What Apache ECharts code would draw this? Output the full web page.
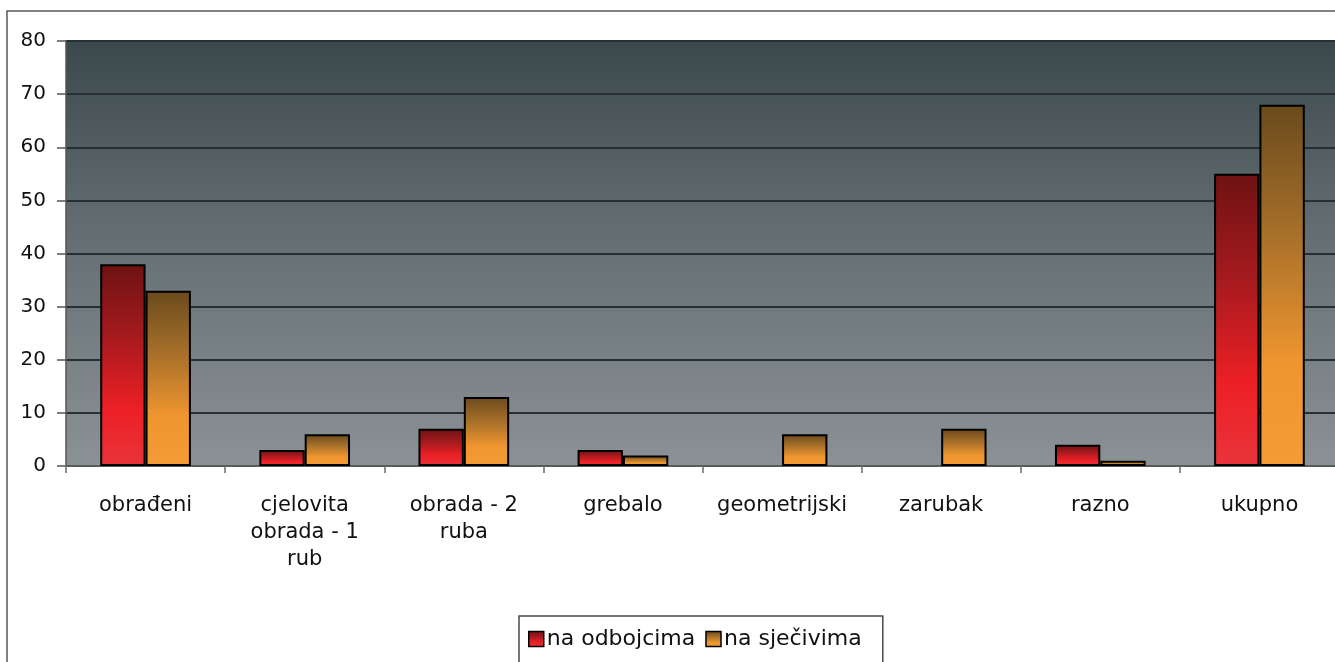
<!DOCTYPE html>
<html>
<head>
<meta charset="utf-8">
<script src="https://cdn.jsdelivr.net/npm/echarts@6/dist/echarts.min.js"></script>
<style>
html,body{margin:0;padding:0;background:#fff;}
#c{width:1335px;height:662px;}
</style>
</head>
<body>
<div id="c"></div>
<script>
var categories = ['obrađeni', 'cjelovita obrada - 1 rub', 'obrada - 2 ruba', 'grebalo', 'geometrijski', 'zarubak', 'razno', 'ukupno'];
var tickLabels = ['obrađeni', 'cjelovita\nobrada - 1\nrub', 'obrada - 2\nruba', 'grebalo', 'geometrijski', 'zarubak', 'razno', 'ukupno'];
var naOdbojcima = [38, 3, 7, 3, 0, 0, 4, 55];
var naSjecivima = [33, 6, 13, 2, 6, 7, 1, 68];
var yTicks = [0, 10, 20, 30, 40, 50, 60, 70, 80];

var FONT = 'DejaVu Sans';
var chart = echarts.init(document.getElementById('c'), null, {renderer: 'canvas'});

function grad(stops) {
  return new echarts.graphic.LinearGradient(0, 0, 0, 1, stops.map(function (s) { return {offset: s[0], color: s[1]}; }));
}
// zero-height bars are not outlined in the reference
function hideZero(arr) {
  return arr.map(function (v) {
    return v === 0 ? {value: v, itemStyle: {borderWidth: 0, opacity: 0}} : v;
  });
}

var option = {
  backgroundColor: '#ffffff',
  animation: false,
  graphic: [{
    type: 'rect',
    shape: {x: 7, y: 11, width: 1340, height: 700},
    style: {fill: 'none', stroke: '#5a5a5a', lineWidth: 1.5},
    z: -1
  }],
  grid: {
    left: 66, top: 41, right: -4, bottom: 196,
    containLabel: false,
    outerBoundsMode: 'none',
    show: true,
    borderWidth: 0,
    backgroundColor: grad([[0, '#3b484c'], [0.45, '#646e72'], [1, '#8b9295']])
  },
  legend: {
    left: 519, top: 616,
    data: ['na odbojcima', 'na sječivima'],
    icon: 'rect',
    itemWidth: 15, itemHeight: 15, itemGap: 10,
    padding: [12, 21, 20, 9],
    borderColor: '#4a4a4a', borderWidth: 1.5, backgroundColor: '#ffffff',
    textStyle: {fontFamily: FONT, fontSize: 22, color: '#111', padding: [0, 0, 0, -2]},
    itemStyle: {borderColor: '#000', borderWidth: 1.5}
  },
  xAxis: {
    type: 'category',
    data: categories,
    axisLine: {show: true, lineStyle: {color: '#6a6a6a', width: 1.5}},
    axisTick: {show: true, length: 7, interval: 0, lineStyle: {color: '#6a6a6a', width: 1.5}},
    axisLabel: {
      interval: 0, margin: 26, fontFamily: FONT, fontSize: 21, color: '#111', lineHeight: 27,
      formatter: function (v, i) { return tickLabels[i]; }
    }
  },
  yAxis: {
    type: 'value', min: 0, max: 80, interval: 10,
    axisLine: {show: true, lineStyle: {color: '#555', width: 1.5}},
    axisTick: {show: true, length: 9, lineStyle: {color: '#555', width: 1.5}},
    axisLabel: {
      margin: 20, fontFamily: FONT, fontSize: 20, color: '#111',
      formatter: function (v) { return yTicks.indexOf(v) >= 0 ? String(v) : ''; }
    },
    splitLine: {show: true, lineStyle: {color: '#263033', width: 2}}
  },
  series: [{
    name: 'na odbojcima',
    type: 'bar',
    data: hideZero(naOdbojcima),
    barGap: '0%',
    barCategoryGap: '43%',
    itemStyle: {
      color: grad([[0, '#6e1212'], [0.35, '#a41a1e'], [0.72, '#ec2025'], [1, '#e8343b']]),
      borderColor: '#000', borderWidth: 2
    }
  }, {
    name: 'na sječivima',
    type: 'bar',
    data: hideZero(naSjecivima),
    barGap: '0%',
    barCategoryGap: '43%',
    itemStyle: {
      color: grad([[0, '#6a4a1c'], [0.35, '#a66f2a'], [0.72, '#f0962f'], [1, '#f39b35']]),
      borderColor: '#000', borderWidth: 2
    }
  }]
};
chart.setOption(option);
</script>
</body>
</html>
